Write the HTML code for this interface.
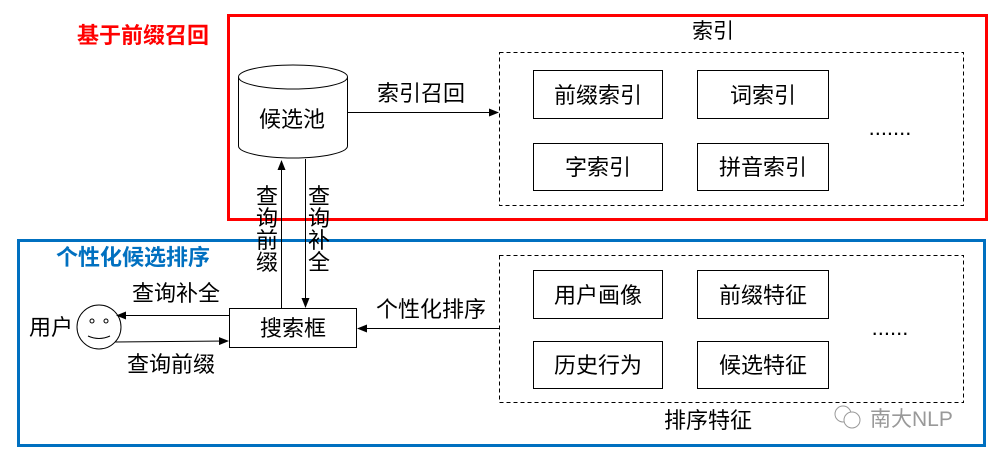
<!DOCTYPE html>
<html><head><meta charset="utf-8"><style>
body{margin:0;background:#fff;}
svg text{font-family:"Liberation Sans","Noto Sans CJK SC",sans-serif;}
</style></head><body>
<svg width="996" height="462" xmlns="http://www.w3.org/2000/svg">
<defs><marker id="a" markerWidth="10" markerHeight="8" refX="9" refY="4" orient="auto" markerUnits="userSpaceOnUse"><path d="M0,0 L10,4 L0,8 z" fill="#000"/></marker></defs>
<rect x="228.5" y="15.5" width="758" height="204" fill="none" stroke="#f00" stroke-width="3"/>
<rect x="18.5" y="240.5" width="966" height="205" fill="none" stroke="#0070c0" stroke-width="3"/>
<text x="143" y="43" font-size="22" font-weight="bold" fill="#f00" text-anchor="middle">基于前缀召回</text>
<text x="133" y="265" font-size="22" font-weight="bold" fill="#0070c0" text-anchor="middle">个性化候选排序</text>
<text x="713" y="38" font-size="21" text-anchor="middle">索引</text>
<path d="M238.5,77 L238.5,146 A54.5,12 0 0 0 347.5,146 L347.5,77" fill="#fff" stroke="#000"/>
<ellipse cx="293" cy="77" rx="54.5" ry="12" fill="#fff" stroke="#000"/>
<text x="292" y="127" font-size="22" text-anchor="middle">候选池</text>
<line x1="347" y1="112.5" x2="498" y2="112.5" stroke="#000" marker-end="url(#a)"/>
<text x="421" y="101" font-size="22" text-anchor="middle">索引召回</text>
<rect x="499.5" y="52.5" width="464" height="153" fill="none" stroke="#000" stroke-dasharray="4,3"/>
<g fill="#fff" stroke="#000">
<rect x="533.5" y="70.5" width="129" height="48"/><rect x="697.5" y="70.5" width="131" height="48"/>
<rect x="533.5" y="143.5" width="129" height="47"/><rect x="697.5" y="143.5" width="131" height="47"/>
<rect x="499.5" y="255.5" width="464" height="147" fill="none" stroke-dasharray="4,3"/>
<rect x="533.5" y="270.5" width="129" height="48"/><rect x="697.5" y="270.5" width="131" height="48"/>
<rect x="533.5" y="341.5" width="129" height="47"/><rect x="697.5" y="341.5" width="131" height="47"/>
<rect x="229.5" y="308.5" width="127" height="39"/>
<circle cx="99" cy="327" r="22"/>
</g>
<g font-size="22" text-anchor="middle">
<text x="598" y="103">前缀索引</text><text x="763" y="103">词索引</text>
<text x="598" y="175">字索引</text><text x="763" y="175">拼音索引</text>
<text x="598" y="303">用户画像</text><text x="763" y="303">前缀特征</text>
<text x="598" y="373">历史行为</text><text x="763" y="373">候选特征</text>
<text x="890" y="135">.......</text><text x="890" y="335">......</text>
<text x="708" y="428">排序特征</text>
<text x="293" y="336">搜索框</text>
<text x="51" y="335">用户</text>
<text x="176" y="301">查询补全</text>
<text x="171" y="372">查询前缀</text>
<text x="431" y="317">个性化排序</text>
<text x="267" y="204">查</text><text x="267" y="226">询</text><text x="267" y="248">前</text><text x="267" y="270">缀</text>
<text x="319" y="204">查</text><text x="319" y="226">询</text><text x="319" y="248">补</text><text x="319" y="270">全</text>
</g>
<circle cx="92" cy="321" r="2" fill="none" stroke="#000"/><circle cx="106" cy="321" r="2" fill="none" stroke="#000"/>
<path d="M88,336 Q99,341 110,336" fill="none" stroke="#000"/>
<line x1="281.5" y1="308" x2="281.5" y2="161" stroke="#000" marker-end="url(#a)"/>
<line x1="305.5" y1="159" x2="305.5" y2="307" stroke="#000" marker-end="url(#a)"/>
<line x1="229" y1="315.5" x2="117" y2="315.5" stroke="#000" marker-end="url(#a)"/>
<line x1="115" y1="342" x2="228" y2="341" stroke="#000" marker-end="url(#a)"/>
<line x1="499" y1="328.5" x2="358" y2="328.5" stroke="#000" marker-end="url(#a)"/>
<g fill="none" stroke="#999"><circle cx="843" cy="414" r="8"/><circle cx="852" cy="420" r="8" fill="#fff"/></g>
<text x="870" y="426" font-size="21" fill="#999">南大NLP</text>
</svg>
</body></html>
